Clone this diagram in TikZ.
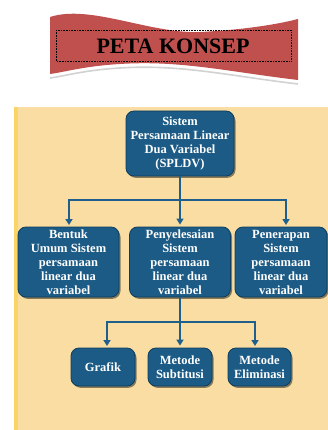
\documentclass[tikz,border=0pt]{standalone}
\usepackage{fontspec}
\setmainfont{Liberation Serif}
\usetikzlibrary{arrows.meta,shadows}
\definecolor{nodeblue}{HTML}{1B5B86}
\definecolor{nodeedge}{HTML}{0E3E5E}
\definecolor{linkblue}{HTML}{1F5F8B}
\definecolor{panel}{HTML}{F9DDA2}
\definecolor{panelstrip}{HTML}{F8D564}
\definecolor{bannerred}{HTML}{C0504D}
\tikzset{
  box/.style={draw=nodeedge, line width=0.8pt, fill=nodeblue, rounded corners=8pt,
    text=white, align=center, inner sep=1pt,
    font=\fontsize{12.5}{14}\selectfont\bfseries,
    drop shadow={shadow xshift=1.5pt, shadow yshift=-1.8pt, opacity=0.45, fill=black}},
  link/.style={draw=linkblue, line width=2pt},
  arrowlink/.style={link, -{Triangle[length=6pt,width=7pt]}, shorten >=2pt}
}
\begin{document}
\begin{tikzpicture}[x=1pt,y=-1pt]
\useasboundingbox (0,0) rectangle (328,430);
\fill[white] (0,0) rectangle (328,430);
% banner
\draw[gray!35, line width=1.6pt] (298,84) .. controls (230,76) and (180,64) .. (120,68) .. controls (85,70) and (65,76) .. (50,78);
\fill[bannerred] (50,17) .. controls (90,4) and (150,34) .. (200,32)
  .. controls (240,30) and (275,25) .. (298,19) -- (298,80)
  .. controls (230,72) and (180,60) .. (120,64)
  .. controls (85,66) and (65,72) .. (50,74) -- cycle;
\draw[black, densely dotted, line width=0.6pt] (56,30) rectangle (291,61);
\node (title) at (173,46) {\fontsize{22}{24}\selectfont\bfseries PETA KONSEP};
% panel
\fill[panel] (14,107) rectangle (328,430);
\fill[panelstrip] (14,107) rectangle (18,430);
% nodes
\node[box, minimum width=108pt, minimum height=65pt] (top) at (180,143.5)
  {Sistem\\Persamaan Linear\\Dua Variabel\\(SPLDV)};
\node[box, minimum width=101pt, minimum height=70pt] (n1) at (68.5,262)
  {Bentuk\\Umum Sistem\\persamaan\\linear dua\\variabel};
\node[box, minimum width=101pt, minimum height=70pt] (n2) at (180,262)
  {Penyelesaian\\Sistem\\persamaan\\linear dua\\variabel};
\node[box, minimum width=92pt, minimum height=70pt] (n3) at (281,262)
  {Penerapan\\Sistem\\persamaan\\linear dua\\variabel};
\node[box, minimum width=64pt, minimum height=38pt] (g1) at (103,367) {Grafik};
\node[box, minimum width=64pt, minimum height=38pt] (g2) at (180,367) {Metode\\Subtitusi};
\node[box, minimum width=63pt, minimum height=38pt] (g3) at (259.5,367) {Metode\\Eliminasi};
% connectors
\coordinate (j1) at (180,200);
\coordinate (a1) at (69,227);
\coordinate (a3) at (286,227);
\draw[link] (top.south) -- (j1);
\draw[arrowlink] (j1) -| (a1);
\draw[arrowlink] (j1) -| (a3);
\draw[arrowlink] (j1) -- (n2.north);
\coordinate (j2) at (180,322);
\coordinate (b1) at (107,348);
\coordinate (b3) at (255,348);
\draw[link] (n2.south) -- (j2);
\draw[arrowlink] (j2) -| (b1);
\draw[arrowlink] (j2) -| (b3);
\draw[arrowlink] (j2) -- (g2.north);
\end{tikzpicture}
\end{document}
